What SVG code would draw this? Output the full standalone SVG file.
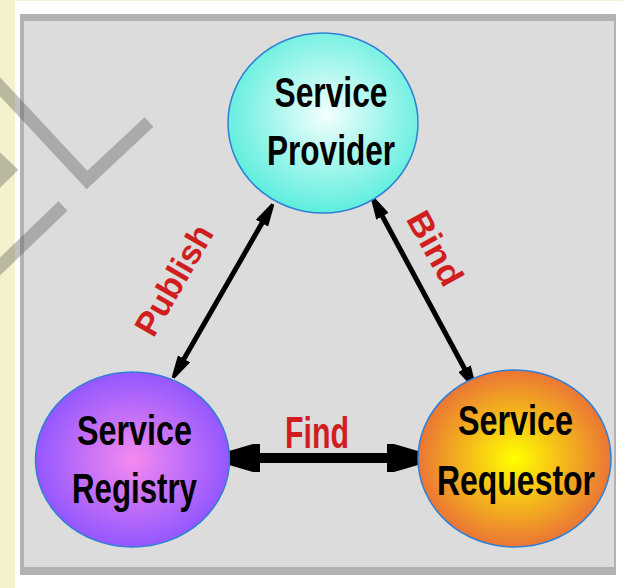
<svg xmlns="http://www.w3.org/2000/svg" width="623" height="588" viewBox="0 0 623 588">
<style>
.node-label{font-family:"Liberation Sans",Arial,sans-serif;font-size:43px;font-weight:bold;fill:#000;text-anchor:middle}
.edge-label{font-family:"Liberation Sans",Arial,sans-serif;font-weight:bold;fill:#d01e1e;text-anchor:middle}
.node-shape{stroke:#2f7fd6;stroke-width:1.5}
.conn{stroke:#000;fill:none}
.wm{stroke:#4d4d4d;stroke-opacity:0.35;stroke-width:13;fill:none;stroke-linecap:butt;stroke-linejoin:miter}
</style>
<defs>
<radialGradient id="gProv" cx="0.52" cy="0.45" r="0.55">
<stop offset="0" stop-color="#f4fffd"/>
<stop offset="1" stop-color="#5eeedd"/>
</radialGradient>
<radialGradient id="gReg" cx="0.5" cy="0.5" r="0.55">
<stop offset="0" stop-color="#f58af0"/>
<stop offset="1" stop-color="#8a52ff"/>
</radialGradient>
<radialGradient id="gReq" cx="0.5" cy="0.5" r="0.55">
<stop offset="0" stop-color="#ffff00"/>
<stop offset="1" stop-color="#e8683a"/>
</radialGradient>
<marker id="headS" viewBox="0 0 22 14" refX="14" refY="7" markerWidth="22" markerHeight="14" markerUnits="userSpaceOnUse" orient="auto-start-reverse">
<path d="M22,5.5 L22,8.5 L0,14 L0,0 Z" fill="#000"/>
</marker>
<marker id="headL" viewBox="0 0 31 28" refX="21" refY="14" markerWidth="31" markerHeight="28" markerUnits="userSpaceOnUse" orient="auto-start-reverse">
<path d="M31,7 L31,21 L7,28 L0,28 L0,0 L7,0 Z" fill="#000"/>
</marker>
</defs>
<rect x="0" y="0" width="623" height="588" fill="#f6f1cd"/>
<rect x="15" y="1" width="608" height="587" fill="#ffffff"/>
<rect x="20" y="14" width="596" height="561" fill="#b2b2b2"/>
<rect x="24" y="21" width="590" height="546" fill="#dcdcdc"/>
<g id="watermark">
<polyline class="wm" points="-12,74 87,180 149,122"/>
<polyline class="wm" points="63,206 -10,276"/>
<polyline class="wm" points="-20,142 9,170 -20,198"/>
</g>
<g id="connectors">
<line class="conn" stroke-width="5" x1="177" y1="371" x2="269" y2="211" marker-start="url(#headS)" marker-end="url(#headS)"/>
<line class="conn" stroke-width="5" x1="375.8" y1="204" x2="471.2" y2="381" marker-start="url(#headS)" marker-end="url(#headS)"/>
<line class="conn" stroke-width="10" x1="239" y1="458" x2="408" y2="458" marker-start="url(#headL)" marker-end="url(#headL)"/>
<text class="edge-label" font-size="34" transform="translate(184,286) rotate(-60)" textLength="122" lengthAdjust="spacingAndGlyphs">Publish</text>
<text class="edge-label" font-size="34" transform="translate(425,254) rotate(61)" textLength="80" lengthAdjust="spacingAndGlyphs">Bind</text>
<text class="edge-label" font-size="44" x="317" y="448" textLength="64" lengthAdjust="spacingAndGlyphs">Find</text>
</g>
<g id="provider">
<ellipse class="node-shape" cx="323" cy="123" rx="95" ry="90" fill="url(#gProv)"/>
<text class="node-label" x="331" y="107" textLength="113" lengthAdjust="spacingAndGlyphs">Service</text>
<text class="node-label" x="331" y="165" textLength="128" lengthAdjust="spacingAndGlyphs">Provider</text>
</g>
<g id="registry">
<ellipse class="node-shape" cx="132.5" cy="459.5" rx="97" ry="87.5" fill="url(#gReg)"/>
<text class="node-label" x="134.5" y="445" textLength="115" lengthAdjust="spacingAndGlyphs">Service</text>
<text class="node-label" x="134.5" y="503" textLength="125" lengthAdjust="spacingAndGlyphs">Registry</text>
</g>
<g id="requestor">
<ellipse class="node-shape" cx="514.5" cy="458.5" rx="96.5" ry="88.5" fill="url(#gReq)"/>
<text class="node-label" x="515.5" y="435" textLength="115" lengthAdjust="spacingAndGlyphs">Service</text>
<text class="node-label" x="516" y="495" textLength="158" lengthAdjust="spacingAndGlyphs">Requestor</text>
</g>
</svg>
